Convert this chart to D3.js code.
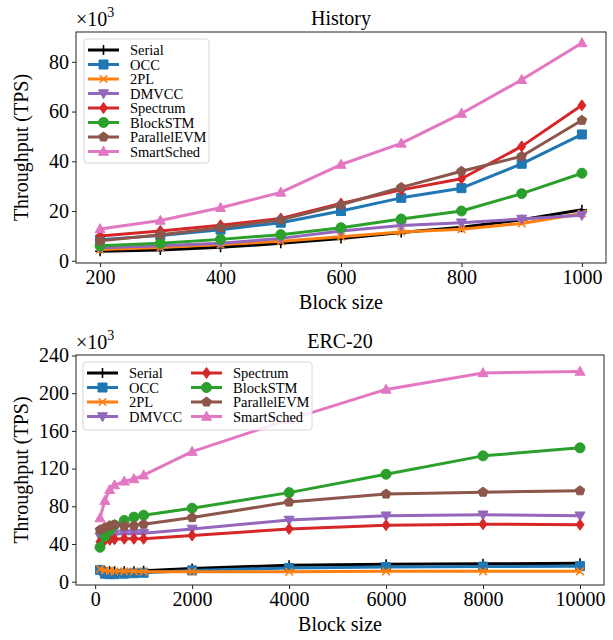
<!DOCTYPE html>
<html>
<head>
<meta charset="utf-8">
<script src="https://cdn.jsdelivr.net/npm/d3@7"></script>
<style>
  body { margin: 0; background: #fff; }
  svg { font-family: "Liberation Serif", "Times New Roman", serif; }
  .tick text { font-size: 20px; fill: #000; }
</style>
</head>
<body>
<svg id="chart" width="613" height="640"></svg>
<script>
// series names, in legend order
const seriesNames = ['Serial', 'OCC', '2PL', 'DMVCC', 'Spectrum', 'BlockSTM', 'ParallelEVM', 'SmartSched'];

// History workload (x10^3 TPS)
const historySizes = [200, 300, 400, 500, 600, 700, 800, 900, 1000];
const historySerial = [3.8, 4.3, 5.4, 7.0, 9.0, 11.4, 13.5, 16.5, 20.5];
const historyOCC = [8.5, 10.2, 12.5, 15.3, 20.0, 25.3, 29.2, 39.0, 50.8];
const history2PL = [4.5, 5.3, 6.5, 7.8, 9.7, 11.6, 12.7, 15.0, 19.0];
const historyDMVCC = [5.2, 6.0, 7.0, 9.0, 12.0, 14.2, 15.3, 16.8, 18.3];
const historySpectrum = [10.0, 12.0, 14.3, 17.0, 23.0, 28.5, 33.0, 46.0, 62.5];
const historyBlockSTM = [6.0, 7.0, 8.6, 10.5, 13.3, 16.8, 20.0, 27.0, 35.2];
const historyParallelEVM = [8.0, 10.5, 13.3, 16.5, 22.5, 29.5, 36.0, 42.0, 56.5];
const historySmartSched = [12.8, 16.2, 21.3, 27.5, 38.7, 47.2, 59.2, 72.8, 87.6];
const historyXTicks = [200, 400, 600, 800, 1000];
const historyYTicks = [0, 20, 40, 60, 80];

// ERC-20 workload (x10^3 TPS)
const ercSizes = [100, 200, 300, 400, 600, 800, 1000, 2000, 4000, 6000, 8000, 10000];
const ercSerial = [12, 11, 11, 11, 11, 11, 11.5, 14, 17.5, 18.5, 19, 19.5];
const ercOCC = [12.5, 8.5, 8, 8, 8.5, 9, 9.5, 12, 14.5, 15.5, 16, 16.5];
const erc2PL = [13.5, 12, 11.5, 11, 11, 11, 10.5, 10.5, 10.5, 11, 11, 11];
const ercDMVCC = [48, 49.5, 50, 50.5, 51, 51, 51.5, 56, 65.5, 70, 71, 70];
const ercSpectrum = [42.5, 44, 44.5, 45, 45.5, 45.5, 45.5, 49, 56, 60, 61, 60.5];
const ercBlockSTM = [36.5, 48, 55, 60, 65, 68.5, 70.5, 78, 94.5, 114, 133.5, 142];
const ercParallelEVM = [55, 57.5, 59.5, 60.5, 59, 59.5, 61, 68, 84.5, 93, 95, 96.5];
const ercSmartSched = [67.5, 86, 97.5, 102.5, 106.5, 109, 113, 138, 172, 204, 221.5, 223];
const ercXTicks = [0, 2000, 4000, 6000, 8000, 10000];
const ercYTicks = [0, 40, 80, 120, 160, 200, 240];

const colors = ['#000000', '#1f77b4', '#ff7f0e', '#9467bd', '#d62728', '#2ca02c', '#8c564b', '#e377c2'];
const markers = ['plus', 'square', 'x', 'tridown', 'diamond', 'circle', 'pentagon', 'triup'];

const svg = d3.select('#chart');

// marker outline as path string, centred on 0,0
function markerPath(kind, s) {
  const r = s / 2;
  if (kind == 'square') return `M${-r * 0.9},${-r * 0.9}H${r * 0.9}V${r * 0.9}H${-r * 0.9}Z`;
  if (kind == 'diamond') return `M0,${-r * 1.1}L${r * 0.8},0L0,${r * 1.1}L${-r * 0.8},0Z`;
  if (kind == 'plus') return `M${-r},0H${r}M0,${-r}V${r}`;
  if (kind == 'x') return `M${-r * 0.75},${-r * 0.75}L${r * 0.75},${r * 0.75}M${-r * 0.75},${r * 0.75}L${r * 0.75},${-r * 0.75}`;
  if (kind == 'triup') return `M0,${-r * 1.05}L${r},${r * 0.75}L${-r},${r * 0.75}Z`;
  if (kind == 'tridown') return `M0,${r * 1.05}L${r},${-r * 0.75}L${-r},${-r * 0.75}Z`;
  if (kind == 'circle') {
    const p = d3.path();
    p.arc(0, 0, r, 0, 2 * Math.PI);
    return p.toString();
  }
  if (kind == 'pentagon') {
    let pts = [];
    for (let k = 0; k < 5; k++) {
      const a = -Math.PI / 2 + k * 2 * Math.PI / 5;
      pts.push([r * Math.cos(a), r * Math.sin(a)]);
    }
    return 'M' + pts.map(p => p.join(',')).join('L') + 'Z';
  }
}

function drawMarker(g, kind, color, x, y) {
  const stroked = (kind == 'plus' || kind == 'x');
  g.append('path')
    .attr('transform', `translate(${x},${y})`)
    .attr('d', markerPath(kind, 10))
    .attr('fill', stroked ? 'none' : color)
    .attr('stroke', color)
    .attr('stroke-width', stroked ? 1.6 : 1);
}

function drawPanel(cfg) {
  const x = d3.scaleLinear().domain(cfg.xDomain).range([cfg.left, cfg.right]);
  const y = d3.scaleLinear().domain(cfg.yDomain).range([cfg.bottom, cfg.top]);
  const g = svg.append('g');

  // series
  cfg.series.forEach((vals, i) => {
    const pts = cfg.xs.map((xv, j) => [x(xv), y(vals[j])]);
    const sg = g.append('g');
    sg.append('path')
      .attr('d', d3.line()(pts))
      .attr('fill', 'none')
      .attr('stroke', colors[i])
      .attr('stroke-width', 3)
      .attr('stroke-linejoin', 'round');
    pts.forEach(p => drawMarker(sg, markers[i], colors[i], p[0], p[1]));
  });

  // frame
  g.append('rect')
    .attr('x', cfg.left).attr('y', cfg.top)
    .attr('width', cfg.right - cfg.left).attr('height', cfg.bottom - cfg.top)
    .attr('fill', 'none').attr('stroke', '#222').attr('stroke-width', 1);

  // axes
  const xAxis = g.append('g')
    .attr('transform', `translate(0,${cfg.bottom})`)
    .call(d3.axisBottom(x).tickValues(cfg.xTicks).tickSize(4).tickPadding(3).tickFormat(d3.format('d')));
  const yAxis = g.append('g')
    .attr('transform', `translate(${cfg.left},0)`)
    .call(d3.axisLeft(y).tickValues(cfg.yTicks).tickSize(4).tickPadding(3).tickFormat(d3.format('d')));
  [xAxis, yAxis].forEach(a => {
    a.select('.domain').remove();
    a.selectAll('.tick line').attr('stroke', '#222');
    a.attr('font-family', null).attr('font-size', null);
  });

  // title and labels
  g.append('text')
    .attr('x', (cfg.left + cfg.right) / 2).attr('y', cfg.top - 7)
    .attr('text-anchor', 'middle').attr('font-size', 20)
    .text(cfg.title);
  g.append('text')
    .attr('x', (cfg.left + cfg.right) / 2).attr('y', cfg.bottom + 46)
    .attr('text-anchor', 'middle').attr('font-size', 20)
    .text('Block size');
  g.append('text')
    .attr('transform', `translate(28,${(cfg.top + cfg.bottom) / 2}) rotate(-90)`)
    .attr('text-anchor', 'middle').attr('font-size', 20)
    .text('Throughput (TPS)');
  const mult = g.append('text')
    .attr('x', cfg.left).attr('y', cfg.top - 6)
    .attr('font-size', 20);
  mult.append('tspan').text('×10');
  mult.append('tspan').attr('font-size', 14).attr('dy', -9).text('3');

  // legend
  const lg = g.append('g');
  lg.append('rect')
    .attr('x', cfg.legend.x).attr('y', cfg.legend.y)
    .attr('width', cfg.legend.w).attr('height', cfg.legend.h)
    .attr('rx', 3)
    .attr('fill', 'rgba(255,255,255,0.85)')
    .attr('stroke', '#d6d6d6').attr('stroke-width', 1);
  seriesNames.forEach((name, i) => {
    const col = Math.floor(i / cfg.legend.rows);
    const row = i % cfg.legend.rows;
    const lx = cfg.legend.x + 4 + col * cfg.legend.colW;
    const ly = cfg.legend.y + 11 + row * 14.5;
    lg.append('line')
      .attr('x1', lx).attr('x2', lx + 31)
      .attr('y1', ly).attr('y2', ly)
      .attr('stroke', colors[i]).attr('stroke-width', 3);
    drawMarker(lg, markers[i], colors[i], lx + 15.5, ly);
    lg.append('text')
      .attr('x', lx + 42).attr('y', ly + 5)
      .attr('font-size', 14.5)
      .text(name);
  });
}

drawPanel({
  title: 'History',
  left: 76, right: 606, top: 32, bottom: 263,
  xDomain: [160, 1040], yDomain: [-0.9, 92],
  xs: historySizes,
  series: [historySerial, historyOCC, history2PL, historyDMVCC, historySpectrum, historyBlockSTM, historyParallelEVM, historySmartSched],
  xTicks: historyXTicks, yTicks: historyYTicks,
  legend: { x: 84, y: 39, w: 125, h: 124, rows: 8, colW: 0 }
});

drawPanel({
  title: 'ERC-20',
  left: 76, right: 604, top: 355, bottom: 585,
  xDomain: [-395, 10495], yDomain: [-3.5, 240.5],
  xs: ercSizes,
  series: [ercSerial, ercOCC, erc2PL, ercDMVCC, ercSpectrum, ercBlockSTM, ercParallelEVM, ercSmartSched],
  xTicks: ercXTicks, yTicks: ercYTicks,
  legend: { x: 83, y: 362, w: 229, h: 68, rows: 4, colW: 104 }
});
</script>
</body>
</html>
